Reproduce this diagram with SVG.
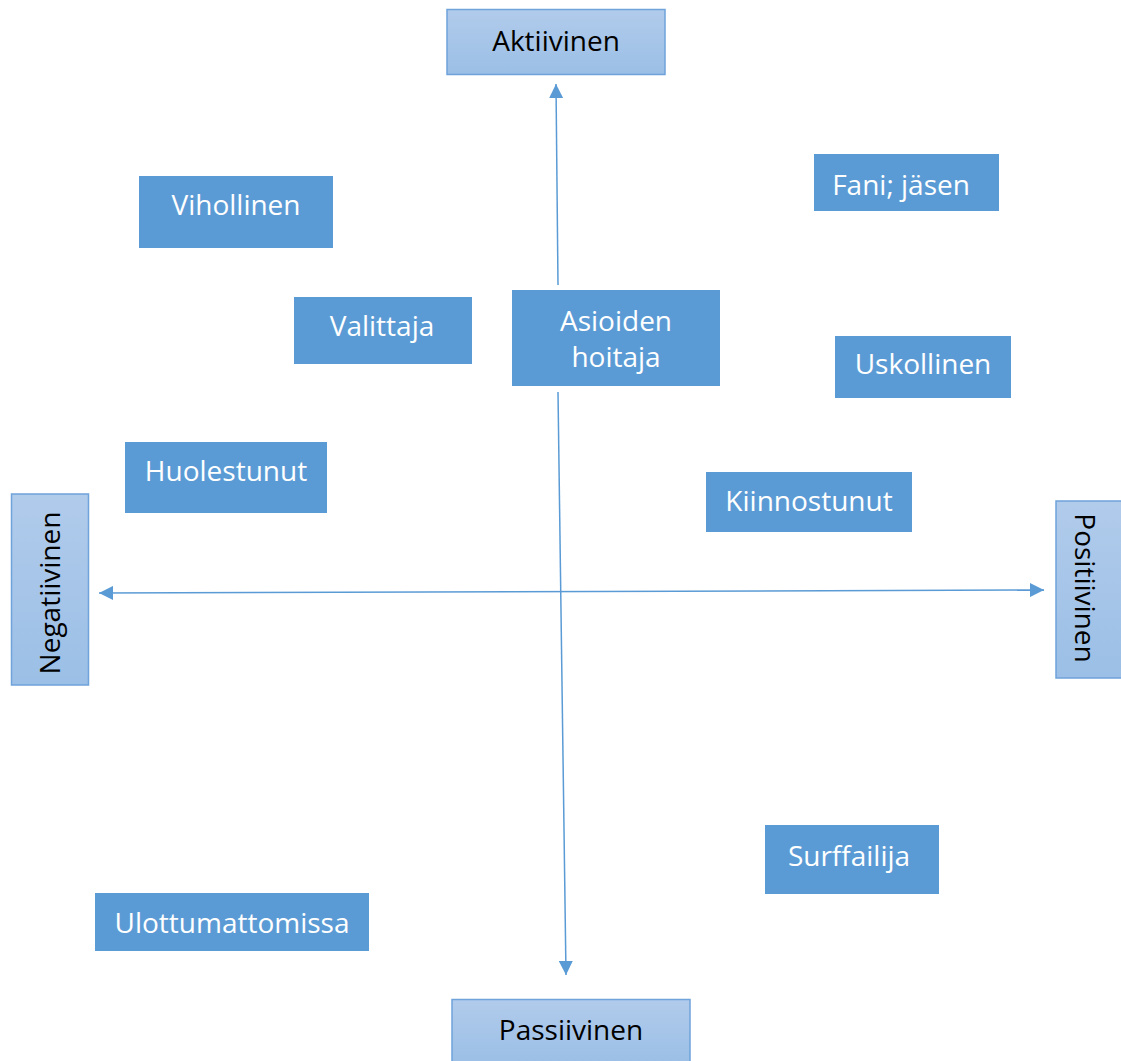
<svg xmlns="http://www.w3.org/2000/svg" width="1121" height="1061" viewBox="0 0 1121 1061">
<defs>
<linearGradient id="g" x1="0" y1="0" x2="0" y2="1">
<stop offset="0" stop-color="#b1cbeb"/>
<stop offset="1" stop-color="#9bbfe6"/>
</linearGradient>
<marker id="ah" viewBox="0 0 10 10" refX="10" refY="5" markerWidth="14" markerHeight="14" markerUnits="userSpaceOnUse" orient="auto-start-reverse">
<path d="M0,0 L10,5 L0,10 z" fill="#5b9bd5"/>
</marker>
</defs>
<style>
.b{fill:#5b9bd5}
.a{stroke:#6fa3da;stroke-width:1.5}
.t{font-family:"Open Sans","Noto Sans",sans-serif;font-size:28px;fill:#ffffff;text-anchor:middle}
.k{font-family:"Open Sans","Noto Sans",sans-serif;font-size:28px;fill:#000000;text-anchor:middle}
.c{stroke:#5b9bd5;stroke-width:1.5;fill:none}
</style>
<rect width="1121" height="1061" fill="#ffffff"/>
<g id="connectors">
<line class="c" x1="558" y1="285" x2="556" y2="84" marker-end="url(#ah)"/>
<line class="c" x1="558" y1="392" x2="566" y2="975" marker-end="url(#ah)"/>
<line class="c" x1="99" y1="593" x2="1044" y2="590" marker-start="url(#ah)" marker-end="url(#ah)"/>
</g>
<g id="aktiivinen">
<rect class="a" x="447" y="9.5" width="218" height="65" fill="url(#g)"/>
<text class="k" x="556" y="51">Aktiivinen</text>
</g>
<g id="negatiivinen">
<rect class="a" x="11.5" y="494" width="77" height="191" fill="url(#g)"/>
<text class="k" transform="translate(60,593) rotate(-90)">Negatiivinen</text>
</g>
<g id="positiivinen">
<rect class="a" x="1056" y="501" width="66" height="177" fill="url(#g)"/>
<text class="k" transform="translate(1075,588) rotate(90)">Positiivinen</text>
</g>
<g id="passiivinen">
<rect class="a" x="452" y="999.5" width="238" height="63" fill="url(#g)"/>
<text class="k" x="571" y="1040">Passiivinen</text>
</g>
<g id="vihollinen">
<rect class="b" x="139" y="176" width="194" height="72"/>
<text class="t" x="236" y="215">Vihollinen</text>
</g>
<g id="fani">
<rect class="b" x="814" y="154" width="185" height="57"/>
<text class="t" x="901" y="195">Fani; jäsen</text>
</g>
<g id="valittaja">
<rect class="b" x="294" y="297" width="178" height="67"/>
<text class="t" x="382" y="336">Valittaja</text>
</g>
<g id="asioiden">
<rect class="b" x="512" y="290" width="208" height="96"/>
<text class="t" x="616" y="331">Asioiden</text>
<text class="t" x="616" y="367">hoitaja</text>
</g>
<g id="uskollinen">
<rect class="b" x="835" y="336" width="176" height="62"/>
<text class="t" x="923" y="374">Uskollinen</text>
</g>
<g id="huolestunut">
<rect class="b" x="125" y="442" width="202" height="71"/>
<text class="t" x="226" y="481">Huolestunut</text>
</g>
<g id="kiinnostunut">
<rect class="b" x="706" y="472" width="206" height="60"/>
<text class="t" x="809" y="511">Kiinnostunut</text>
</g>
<g id="surffailija">
<rect class="b" x="765" y="825" width="174" height="69"/>
<text class="t" x="849" y="866">Surffailija</text>
</g>
<g id="ulottumattomissa">
<rect class="b" x="95" y="893" width="274" height="58"/>
<text class="t" x="232" y="933">Ulottumattomissa</text>
</g>
</svg>
